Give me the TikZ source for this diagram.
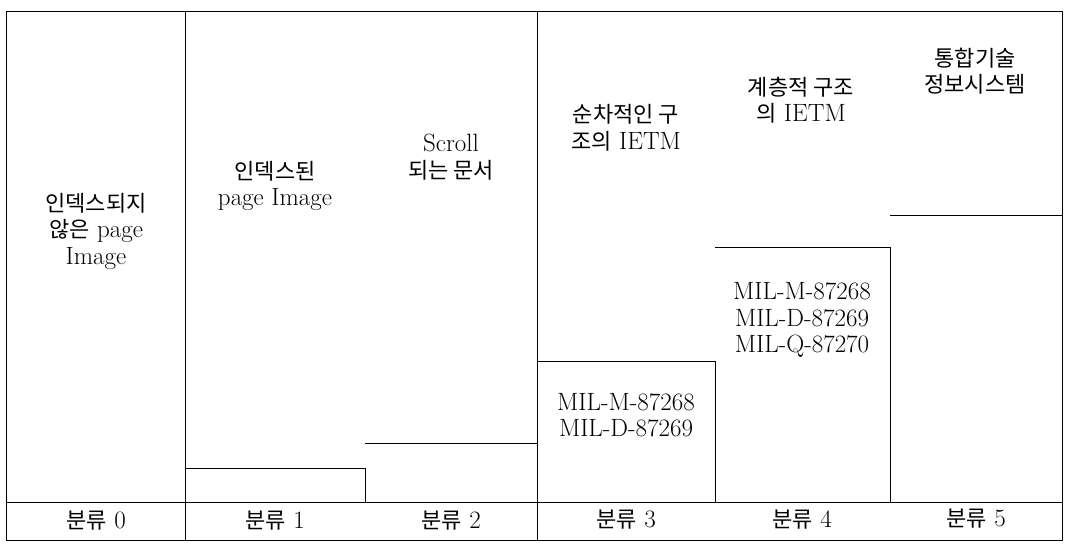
\documentclass[tikz,border=0pt]{standalone}
\usepackage{fontspec}
\newfontfamily\kr{Noto Sans CJK KR}[Scale=0.88]
\begin{document}
\begin{tikzpicture}[x=1pt,y=-1pt,
  frame/.style={draw=black,line width=1pt},
  txt/.style={align=center,inner sep=0pt,font=\fontsize{25}{26.5}\selectfont},
  lab/.style={inner sep=0pt,font=\fontsize{25}{26}\selectfont}]
\useasboundingbox (0,0) rectangle (1067,543);
% outer frame and label row
\draw[frame] (6,12) rectangle (1062,540);
\draw[frame] (6,502) -- (1062,502);
\draw[frame] (185,12) -- (185,540);
\draw[frame] (537,12) -- (537,540);
% step boxes
\draw[frame] (185,468) -- (365,468) -- (365,502);
\draw[frame] (365,443) -- (537,443);
\draw[frame] (537,361) -- (715,361) -- (715,502);
\draw[frame] (715,247) -- (890,247) -- (890,502);
\draw[frame] (890,215) -- (1062,215);
% column headings
\node[txt] (c0) at (96,231) {{\kr 인덱스되지}\\{\kr 않은} page\\Image};
\node[txt] (c1) at (275,186) {{\kr 인덱스된}\\page Image};
\node[txt] (c2) at (451,157) {Scroll\\{\kr 되는 문서}};
\node[txt] (c3) at (626,128) {{\kr 순차적인 구}\\{\kr 조의} IETM};
\node[txt] (c4) at (801,100) {{\kr 계층적 구조}\\{\kr 의} IETM};
\node[txt] (c5) at (975,71) {{\kr 통합기술}\\{\kr 정보시스템}};
% standards
\node[txt] (s3) at (626,415) {MIL-M-87268\\MIL-D-87269};
\node[txt] (s4) at (802,320) {MIL-M-87268\\MIL-D-87269\\MIL-Q-87270};
% labels
\node[lab] (l0) at (96,521) {{\kr 분류} 0};
\node[lab] (l1) at (275,521) {{\kr 분류} 1};
\node[lab] (l2) at (451,521) {{\kr 분류} 2};
\node[lab] (l3) at (626,520) {{\kr 분류} 3};
\node[lab] (l4) at (802,520) {{\kr 분류} 4};
\node[lab] (l5) at (976,519) {{\kr 분류} 5};
\end{tikzpicture}
\end{document}
